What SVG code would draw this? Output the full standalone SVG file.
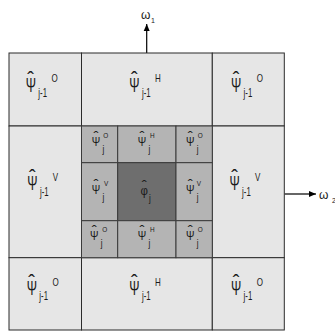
<svg xmlns="http://www.w3.org/2000/svg" width="335" height="334" viewBox="0 0 335 334">
<style>
  .outer { fill: #e6e6e6; stroke: #2b2b2b; stroke-width: 1; }
  .inner { fill: #b4b4b4; stroke: #3a3a3a; stroke-width: 1; }
  .center { fill: #6e6e6e; stroke: #3a3a3a; stroke-width: 1; }
  text { font-family: "Liberation Sans", Arial, sans-serif; fill: #1a1a1a; }
  .P { font-size: 19.5px; }
  .H { font-size: 20px; text-anchor: middle; }
  .S { font-size: 12px; }
  .U { font-size: 10px; }
  .p { font-size: 13.5px; }
  .h { font-size: 15px; text-anchor: middle; }
  .s { font-size: 10px; }
  .u { font-size: 8px; }
  .lab { font-size: 12px; }
  .labsub { font-size: 7px; }
  .conn { stroke: #000; stroke-width: 1.2; fill: none; }
</style>
<defs>
  <marker id="arr" markerWidth="8" markerHeight="8" refX="7" refY="4" orient="auto" markerUnits="userSpaceOnUse">
    <path d="M0,1 L7,4 L0,7 Z" fill="#000"/>
  </marker>
</defs>

<g id="connectors">
  <line class="conn" x1="146.7" y1="53" x2="146.7" y2="24" marker-end="url(#arr)"/>
  <line class="conn" x1="284.5" y1="194" x2="316" y2="194" marker-end="url(#arr)"/>
</g>

<!-- outer ring -->
<g id="o_tl"><rect class="outer" x="9" y="53" width="72.5" height="73"/>
  <text class="P" transform="translate(25.7,92) scale(0.63,1)">Ψ</text>
  <text class="H" x="30.7" y="85.5">ˆ</text>
  <text class="S" transform="translate(38.3,97) scale(0.65,1)">j-1</text>
  <text class="U" transform="translate(51.5,82) scale(0.8,1)">O</text></g>
<g id="o_tm"><rect class="outer" x="81.5" y="53" width="130.8" height="73"/>
  <text class="P" transform="translate(129.3,92) scale(0.63,1)">Ψ</text>
  <text class="H" x="134.3" y="85.5">ˆ</text>
  <text class="S" transform="translate(141.9,97) scale(0.65,1)">j-1</text>
  <text class="U" transform="translate(155.1,82) scale(0.8,1)">H</text></g>
<g id="o_tr"><rect class="outer" x="212.3" y="53" width="72" height="73"/>
  <text class="P" transform="translate(231,92) scale(0.63,1)">Ψ</text>
  <text class="H" x="236" y="85.5">ˆ</text>
  <text class="S" transform="translate(243.6,97) scale(0.65,1)">j-1</text>
  <text class="U" transform="translate(256.8,82) scale(0.8,1)">O</text></g>
<g id="o_ml"><rect class="outer" x="9" y="126" width="72.5" height="131.7"/>
  <text class="P" transform="translate(27.3,190) scale(0.63,1)">Ψ</text>
  <text class="H" x="32.3" y="183.5">ˆ</text>
  <text class="S" transform="translate(39.9,195.5) scale(0.65,1)">j-1</text>
  <text class="U" transform="translate(52.8,181) scale(0.8,1)">V</text></g>
<g id="o_mr"><rect class="outer" x="212.3" y="126" width="72" height="131.7"/>
  <text class="P" transform="translate(229.5,190) scale(0.63,1)">Ψ</text>
  <text class="H" x="234.5" y="183.5">ˆ</text>
  <text class="S" transform="translate(242.1,195.5) scale(0.65,1)">j-1</text>
  <text class="U" transform="translate(255,181) scale(0.8,1)">V</text></g>
<g id="o_bl"><rect class="outer" x="9" y="257.7" width="72.5" height="72.3"/>
  <text class="P" transform="translate(26.7,295) scale(0.63,1)">Ψ</text>
  <text class="H" x="31.7" y="288.5">ˆ</text>
  <text class="S" transform="translate(39.3,300) scale(0.65,1)">j-1</text>
  <text class="U" transform="translate(52.5,286) scale(0.8,1)">O</text></g>
<g id="o_bm"><rect class="outer" x="81.5" y="257.7" width="130.8" height="72.3"/>
  <text class="P" transform="translate(129.3,295) scale(0.63,1)">Ψ</text>
  <text class="H" x="134.3" y="288.5">ˆ</text>
  <text class="S" transform="translate(141.9,300) scale(0.65,1)">j-1</text>
  <text class="U" transform="translate(155.1,286) scale(0.8,1)">H</text></g>
<g id="o_br"><rect class="outer" x="212.3" y="257.7" width="72" height="72.3"/>
  <text class="P" transform="translate(231,295) scale(0.63,1)">Ψ</text>
  <text class="H" x="236" y="288.5">ˆ</text>
  <text class="S" transform="translate(243.6,300) scale(0.65,1)">j-1</text>
  <text class="U" transform="translate(256.8,286) scale(0.8,1)">O</text></g>

<!-- inner ring -->
<g id="i_tl"><rect class="inner" x="81.5" y="126" width="36.2" height="36.7"/>
  <text class="p" transform="translate(91.7,146) scale(0.75,1)">Ψ</text>
  <text class="h" x="96" y="142">ˆ</text>
  <text class="s" transform="translate(102.5,153) scale(0.8,1)">j</text>
  <text class="u" transform="translate(103.3,138) scale(0.8,1)">O</text></g>
<g id="i_tm"><rect class="inner" x="117.7" y="126" width="58.3" height="36.7"/>
  <text class="p" transform="translate(137.7,146) scale(0.75,1)">Ψ</text>
  <text class="h" x="142" y="142">ˆ</text>
  <text class="s" transform="translate(148.5,153) scale(0.8,1)">j</text>
  <text class="u" transform="translate(150,138) scale(0.8,1)">H</text></g>
<g id="i_tr"><rect class="inner" x="176" y="126" width="36.3" height="36.7"/>
  <text class="p" transform="translate(186,146) scale(0.75,1)">Ψ</text>
  <text class="h" x="190.3" y="142">ˆ</text>
  <text class="s" transform="translate(196.8,153) scale(0.8,1)">j</text>
  <text class="u" transform="translate(197.7,138) scale(0.8,1)">O</text></g>
<g id="i_ml"><rect class="inner" x="81.5" y="162.7" width="36.2" height="58"/>
  <text class="p" transform="translate(91.7,194) scale(0.75,1)">Ψ</text>
  <text class="h" x="96" y="190">ˆ</text>
  <text class="s" transform="translate(102.5,201) scale(0.8,1)">j</text>
  <text class="u" transform="translate(104,186) scale(0.8,1)">V</text></g>
<g id="i_c"><rect class="center" x="117.7" y="162.7" width="58.3" height="58"/>
  <text class="p" transform="translate(140.5,194.5) scale(0.85,1)">φ</text>
  <text class="h" x="144.3" y="191">ˆ</text>
  <text class="s" transform="translate(149,202) scale(0.8,1)">j</text></g>
<g id="i_mr"><rect class="inner" x="176" y="162.7" width="36.3" height="58"/>
  <text class="p" transform="translate(186,194) scale(0.75,1)">Ψ</text>
  <text class="h" x="190.3" y="190">ˆ</text>
  <text class="s" transform="translate(196.8,201) scale(0.8,1)">j</text>
  <text class="u" transform="translate(196.7,186) scale(0.8,1)">V</text></g>
<g id="i_bl"><rect class="inner" x="81.5" y="220.7" width="36.2" height="37"/>
  <text class="p" transform="translate(90,240) scale(0.75,1)">Ψ</text>
  <text class="h" x="94.3" y="236">ˆ</text>
  <text class="s" transform="translate(100.8,247) scale(0.8,1)">j</text>
  <text class="u" transform="translate(102.3,232) scale(0.8,1)">O</text></g>
<g id="i_bm"><rect class="inner" x="117.7" y="220.7" width="58.3" height="37"/>
  <text class="p" transform="translate(137.7,240) scale(0.75,1)">Ψ</text>
  <text class="h" x="142" y="236">ˆ</text>
  <text class="s" transform="translate(148.5,247) scale(0.8,1)">j</text>
  <text class="u" transform="translate(150,232) scale(0.8,1)">H</text></g>
<g id="i_br"><rect class="inner" x="176" y="220.7" width="36.3" height="37"/>
  <text class="p" transform="translate(186,240) scale(0.75,1)">Ψ</text>
  <text class="h" x="190.3" y="236">ˆ</text>
  <text class="s" transform="translate(196.8,247) scale(0.8,1)">j</text>
  <text class="u" transform="translate(197.7,232) scale(0.8,1)">O</text></g>

<g id="label_w1"><text><tspan class="lab" x="141" y="19">ω</tspan><tspan class="labsub" x="151" y="23">1</tspan></text></g>
<g id="label_w2"><text><tspan class="lab" x="319" y="199">ω</tspan><tspan class="labsub" x="332" y="203">2</tspan></text></g>
</svg>
